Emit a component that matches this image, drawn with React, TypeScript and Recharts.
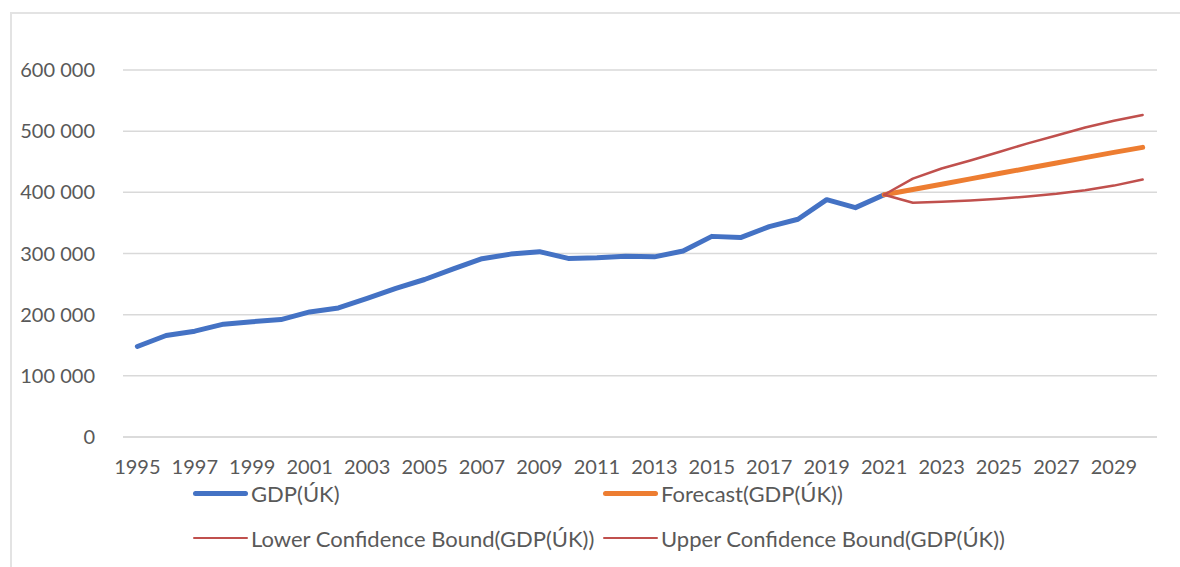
import React from 'react';
import { LineChart, Line, XAxis, YAxis, CartesianGrid } from 'recharts';

const YEARS = [
  '1995', '1996', '1997', '1998', '1999', '2000', '2001', '2002', '2003', '2004',
  '2005', '2006', '2007', '2008', '2009', '2010', '2011', '2012', '2013', '2014',
  '2015', '2016', '2017', '2018', '2019', '2020', '2021', '2022', '2023', '2024',
  '2025', '2026', '2027', '2028', '2029', '2030',
];

// 1995..2021
const GDP = [
  148000, 166000, 173000, 184500, 188500, 192000, 204500, 211000, 226500, 243000,
  257500, 275000, 291500, 299000, 303000, 292000, 293000, 295500, 294500, 304000,
  328000, 326000, 344000, 356000, 388000, 375000, 396000,
];

// 2021..2030
const FORECAST = [396000, 404700, 413300, 422000, 430700, 439300, 448000, 456700, 465300, 473500];
const LOWER = [396000, 383000, 384500, 386500, 389500, 393000, 397500, 403500, 411000, 421000];
const UPPER = [396000, 422500, 439000, 452000, 466000, 480000, 493000, 506000, 517000, 526500];

const Y_TICKS = [0, 100000, 200000, 300000, 400000, 500000, 600000];

const FORECAST_START = YEARS.indexOf('2021');

const data = YEARS.map((year, i) => {
  const f = i - FORECAST_START;
  return {
    year,
    gdp: i < GDP.length ? GDP[i] : null,
    forecast: f >= 0 ? FORECAST[f] : null,
    lower: f >= 0 ? LOWER[f] : null,
    upper: f >= 0 ? UPPER[f] : null,
  };
});

const SERIES = [
  { key: 'gdp', name: 'GDP(ÚK)', color: '#4472C4', width: 5 },
  { key: 'forecast', name: 'Forecast(GDP(ÚK))', color: '#ED7D31', width: 5 },
  { key: 'lower', name: 'Lower Confidence Bound(GDP(ÚK))', color: '#C0504D', width: 2.5 },
  { key: 'upper', name: 'Upper Confidence Bound(GDP(ÚK))', color: '#C0504D', width: 2.5 },
];

const FONT = 'Lato, "Open Sans", sans-serif';
const TEXT = '#595959';

const fmt = (v: number) => String(v).replace(/\B(?=(\d{3})+(?!\d))/g, ' ');

// two rows, two columns like the Excel legend
const LEGEND_SLOTS = [
  { left: 193, top: 480 },
  { left: 603, top: 480 },
  { left: 193, top: 525 },
  { left: 603, top: 525 },
];

export default function App() {
  return (
    <div
      style={{
        position: 'absolute',
        left: 0,
        top: 0,
        width: 1180,
        height: 567,
        background: '#fff',
        overflow: 'hidden',
        fontFamily: FONT,
      }}
    >
      <div
        style={{
          position: 'absolute',
          left: 10,
          top: 12,
          right: 0,
          bottom: 0,
          borderTop: '2px solid #e3e3e3',
          borderLeft: '2px solid #e3e3e3',
        }}
      />
      <LineChart
        width={1180}
        height={567}
        data={data}
        margin={{ top: 70, right: 23, bottom: 100, left: 0 }}
        style={{ position: 'absolute', left: 0, top: 0 }}
      >
        <CartesianGrid vertical={false} stroke="#d9d9d9" strokeWidth={1.5} />
        <XAxis
          dataKey="year"
          scale="band"
          interval={1}
          height={30}
          tickLine={false}
          axisLine={{ stroke: '#d9d9d9', strokeWidth: 1.5 }}
          tickSize={0}
          tickMargin={23}
          tick={{ fill: TEXT, fontSize: 20, fontFamily: FONT }}
        />
        <YAxis
          width={123}
          domain={[0, 600000]}
          ticks={Y_TICKS}
          tickFormatter={fmt}
          tickLine={false}
          axisLine={false}
          tickSize={0}
          tickMargin={28}
          tick={{ fill: TEXT, fontSize: 20, fontFamily: FONT }}
        />
        {SERIES.map((s) => (
          <Line
            key={s.key}
            dataKey={s.key}
            name={s.name}
            stroke={s.color}
            strokeWidth={s.width}
            dot={false}
            activeDot={false}
            strokeLinecap="round"
            strokeLinejoin="round"
            isAnimationActive={false}
          />
        ))}
      </LineChart>
      {SERIES.map((s, i) => (
        <div
          key={s.key}
          style={{
            position: 'absolute',
            left: LEGEND_SLOTS[i].left,
            top: LEGEND_SLOTS[i].top,
            display: 'flex',
            alignItems: 'center',
            height: 26,
            fontSize: 22,
            color: TEXT,
            whiteSpace: 'nowrap',
          }}
        >
          <span
            style={{
              display: 'inline-block',
              width: 55,
              height: s.width,
              borderRadius: s.width / 2,
              background: s.color,
              marginRight: 3,
            }}
          />
          {s.name}
        </div>
      ))}
    </div>
  );
}
